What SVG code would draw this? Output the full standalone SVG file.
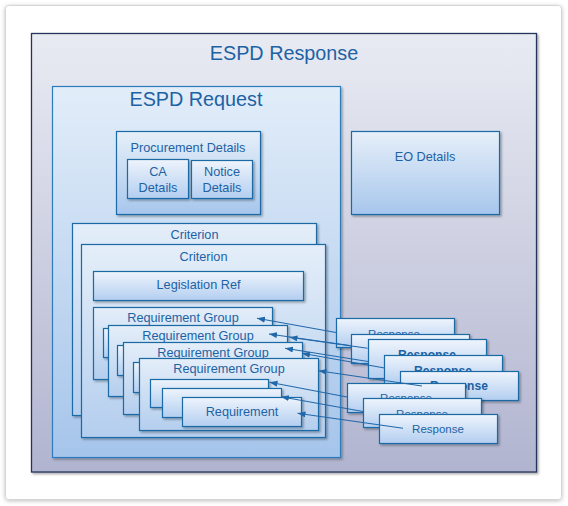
<svg xmlns="http://www.w3.org/2000/svg" width="568" height="506" viewBox="0 0 568 506">
  <defs>
    <linearGradient id="gResp" x1="0" y1="0" x2="0" y2="1">
      <stop offset="0" stop-color="#e9ebf3"/>
      <stop offset="1" stop-color="#b1b4cf"/>
    </linearGradient>
    <linearGradient id="gReq" x1="0" y1="0" x2="0" y2="1">
      <stop offset="0" stop-color="#e2edf9"/>
      <stop offset="1" stop-color="#a6c5eb"/>
    </linearGradient>
    <linearGradient id="gBox" x1="0" y1="0" x2="0" y2="1">
      <stop offset="0" stop-color="#e6eff9"/>
      <stop offset="1" stop-color="#a7c6ec"/>
    </linearGradient>
    <linearGradient id="gCrit" x1="0" y1="0" x2="0" y2="1">
      <stop offset="0" stop-color="#e4eef9"/>
      <stop offset="1" stop-color="#b4ceee"/>
    </linearGradient>
    <linearGradient id="gSmall" x1="0" y1="0" x2="0" y2="1">
      <stop offset="0" stop-color="#eef4fc"/>
      <stop offset="1" stop-color="#b3cef0"/>
    </linearGradient>
    <filter id="sh" x="-10%" y="-10%" width="130%" height="140%">
      <feDropShadow dx="1.5" dy="1.5" stdDeviation="0.9" flood-color="#000" flood-opacity="0.35"/>
    </filter>
    <filter id="cardsh" x="-5%" y="-5%" width="110%" height="110%">
      <feDropShadow dx="0" dy="1" stdDeviation="2" flood-color="#000" flood-opacity="0.25"/>
    </filter>
    <marker id="arr" markerUnits="userSpaceOnUse" markerWidth="9" markerHeight="7" refX="8" refY="3" orient="auto">
      <path d="M0,0 L8,3 L0,6 z" fill="#2168ab"/>
    </marker>
    <style>
      text { font-family: "Liberation Sans", Arial, sans-serif; fill: #1d62a4; text-anchor: middle; }
      .t { font-size: 12.7px; }
      .title { font-size: 19.8px; }
      .r { font-size: 11.5px; }
      .rb { font-size: 12.1px; font-weight: bold; }
      .node { stroke: #1f6aa5; stroke-width: 1.2; filter: url(#sh); }
      .box { fill: url(#gBox); }
      .crit { fill: url(#gCrit); }
      .small { fill: url(#gSmall); }
      .conn line { stroke: #2168ab; stroke-width: 1.1; marker-end: url(#arr); }
    </style>
  </defs>

  <rect x="5.5" y="5.5" width="556" height="494" rx="3" fill="#ffffff" stroke="#d6d6d6" filter="url(#cardsh)"/>

  <g id="espd-response">
    <rect x="31.5" y="33.5" width="505" height="438.5" fill="url(#gResp)" stroke="#22355a" stroke-width="1.3" filter="url(#sh)"/>
    <text class="title" x="284" y="60">ESPD Response</text>
  </g>

  <g id="espd-request">
    <rect x="52.5" y="86.5" width="288" height="371" fill="url(#gReq)" stroke="#2a7cbd" stroke-width="1.2" filter="url(#sh)"/>
    <text class="title" x="196" y="106">ESPD Request</text>
  </g>

  <g id="procurement-details">
    <rect class="node box" x="116.5" y="131.5" width="144" height="83"/>
    <text class="t" x="188" y="152">Procurement Details</text>
  </g>
  <g id="ca-details">
    <rect class="node small" x="127.5" y="159.5" width="61" height="39"/>
    <text class="t" x="158" y="176">CA</text>
    <text class="t" x="158" y="192">Details</text>
  </g>
  <g id="notice-details">
    <rect class="node small" x="191.5" y="160.5" width="61" height="38"/>
    <text class="t" x="222" y="176">Notice</text>
    <text class="t" x="222" y="192">Details</text>
  </g>

  <g id="eo-details">
    <rect class="node box" x="351.5" y="131.5" width="148" height="83"/>
    <text class="t" x="425" y="161">EO Details</text>
  </g>

  <g id="criterion-back">
    <rect class="node crit" x="72.5" y="223.5" width="244" height="192"/>
    <text class="t" x="194.5" y="239">Criterion</text>
  </g>
  <g id="criterion-front">
    <rect class="node crit" x="81.5" y="244.5" width="244" height="193"/>
    <text class="t" x="203.5" y="261">Criterion</text>
  </g>
  <g id="legislation-ref">
    <rect class="node small" x="93.5" y="271.5" width="210" height="29"/>
    <text class="t" x="198.5" y="289">Legislation Ref</text>
  </g>

  <g id="req-group-1">
    <rect class="node crit" x="93.5" y="307.5" width="179" height="72"/>
    <text class="t" x="183" y="322">Requirement Group</text>
    <rect class="node small" x="103.5" y="328.5" width="118" height="29"/>
  </g>
  <g id="req-group-2">
    <rect class="node crit" x="108.5" y="325.5" width="179" height="71"/>
    <text class="t" x="198" y="340">Requirement Group</text>
    <rect class="node small" x="117.5" y="345.5" width="118" height="30"/>
  </g>
  <g id="req-group-3">
    <rect class="node crit" x="123.5" y="342.5" width="179" height="72"/>
    <text class="t" x="213" y="357">Requirement Group</text>
    <rect class="node small" x="133.5" y="362.5" width="118" height="30"/>
  </g>
  <g id="req-group-4">
    <rect class="node crit" x="139.5" y="358.5" width="179" height="72"/>
    <text class="t" x="229" y="373">Requirement Group</text>
  </g>
  <g id="requirement-1">
    <rect class="node small" x="150.5" y="379.5" width="118" height="28"/>
  </g>
  <g id="requirement-2">
    <rect class="node small" x="162.5" y="388.5" width="119" height="29"/>
  </g>
  <g id="requirement-3">
    <rect class="node small" x="182.5" y="397.5" width="119" height="29"/>
    <text class="t" x="242" y="416">Requirement</text>
  </g>

  <g id="response-a">
    <rect class="node small" x="336.5" y="318.5" width="118" height="29"/>
    <text class="r" x="394" y="338">Response</text>
  </g>
  <g id="response-b">
    <rect class="node small" x="351.5" y="334.5" width="118" height="29"/>
  </g>
  <g id="response-c">
    <rect class="node small" x="368.5" y="339.5" width="118" height="39"/>
    <text class="rb" x="427" y="359">Response</text>
  </g>
  <g id="response-d">
    <rect class="node small" x="384.5" y="355.5" width="118" height="29"/>
    <text class="rb" x="443" y="375">Response</text>
  </g>
  <g id="response-e">
    <rect class="node small" x="400.5" y="371.5" width="118" height="29"/>
    <text class="rb" x="459" y="390">Response</text>
  </g>
  <g id="response-f">
    <rect class="node small" x="347.5" y="383.5" width="118" height="29"/>
    <text class="r" x="406" y="402">Response</text>
  </g>
  <g id="response-g">
    <rect class="node small" x="363.5" y="398.5" width="118" height="29"/>
    <text class="r" x="422" y="418">Response</text>
  </g>
  <g id="response-h">
    <rect class="node small" x="379.5" y="414.5" width="118" height="29"/>
    <text class="r" x="438" y="433">Response</text>
  </g>

  <g id="connectors" class="conn">
    <line x1="336" y1="332.5" x2="257" y2="318.3"/>
    <line x1="351.5" y1="345.7" x2="269" y2="334"/>
    <line x1="367.5" y1="348.3" x2="289.5" y2="337.3"/>
    <line x1="368" y1="361.5" x2="285" y2="348.3"/>
    <line x1="384.5" y1="368" x2="302" y2="353.3"/>
    <line x1="422" y1="386" x2="318.5" y2="370.7"/>
    <line x1="347" y1="397" x2="269.5" y2="382.3"/>
    <line x1="363" y1="411.5" x2="281" y2="396.7"/>
    <line x1="403" y1="428.3" x2="297.5" y2="413.3"/>
  </g>
</svg>
